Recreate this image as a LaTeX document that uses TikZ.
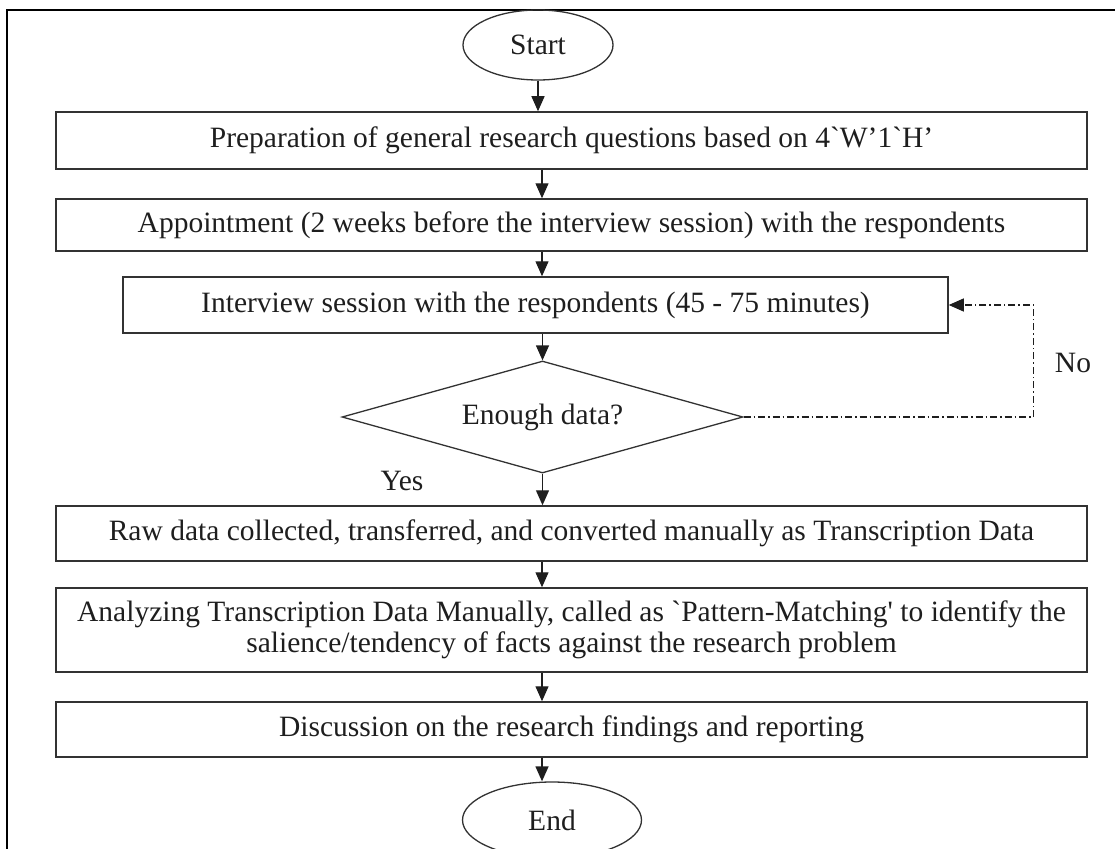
\documentclass[tikz,border=0pt]{standalone}
\usepackage{fontspec}
\setmainfont{Liberation Serif}[Ligatures=TeXOff]
\usetikzlibrary{shapes.geometric,arrows.meta}
\begin{document}
\begin{tikzpicture}[x=1pt,y=-1pt,
  font=\fontsize{29.5}{30.5}\selectfont,
  every node/.style={text={rgb,255:red,30;green,30;blue,30}},
  box/.style={draw={rgb,255:red,50;green,50;blue,50},line width=1.5pt,inner sep=0pt,minimum width=1031pt,align=center},
  term/.style={ellipse,draw={rgb,255:red,50;green,50;blue,50},line width=1.3pt,inner sep=0pt},
  flow/.style={draw={rgb,255:red,30;green,30;blue,30},line width=1.3pt,-{Triangle[length=15pt,width=13pt]}},
  back/.style={flow,line width=1.2pt,dash pattern=on 7pt off 3pt on 1.5pt off 3pt}]
\path[use as bounding box] (0,0) rectangle (1115,848);
\draw[line width=2.5pt] (7,870) -- (7,10) -- (1130,10);
\node[term,minimum width=150pt,minimum height=70pt] (start) at (538,45) {Start};
\node[box,minimum height=57pt] (prep) at (571.5,140.5) {Preparation of general research questions based on 4`W’1`H’};
\node[box,minimum height=52pt] (appt) at (571.5,225) {Appointment (2 weeks before the interview session) with the respondents};
\node[box,minimum width=825pt,minimum height=56pt] (intv) at (535.5,305) {Interview session with the respondents (45 - 75 minutes)};
\node[diamond,aspect=3.6,draw={rgb,255:red,50;green,50;blue,50},line width=1.3pt,inner sep=0pt,minimum width=401pt,minimum height=112pt] (enough) at (542.5,417) {Enough data?};
\node[box,minimum height=55pt] (raw) at (571.5,533.5) {Raw data collected, transferred, and converted manually as Transcription Data};
\node[box,minimum height=84pt] (anal) at (571.5,630) {Analyzing Transcription Data Manually, called as `Pattern-Matching' to identify the\\salience/tendency of facts against the research problem};
\node[box,minimum height=55pt] (disc) at (571.5,729.5) {Discussion on the research findings and reporting};
\node[term,minimum width=179pt,minimum height=76pt] (end) at (552,820) {End};
\node (yes) at (402,481) {Yes};
\node (no) at (1073,363) {No};
\coordinate (axis) at (542,0);
% main flow
\draw[flow] (start) -- (start |- prep.north);
\draw[flow] (prep.south -| axis) -- (appt.north -| axis);
\draw[flow] (appt.south -| axis) -- (intv.north -| axis);
\draw[flow] (intv.south -| enough.north) -- (enough.north);
\draw[flow] (enough.south) -- (enough.south |- raw.north);
\draw[flow] (raw.south -| axis) -- (anal.north -| axis);
\draw[flow] (anal.south -| axis) -- (disc.north -| axis);
\draw[flow] (disc.south -| axis) -- (end.north -| axis);
% loop back
\draw[back] (enough.east) -- ++(290,0) |- (intv.east);
\end{tikzpicture}
\end{document}
